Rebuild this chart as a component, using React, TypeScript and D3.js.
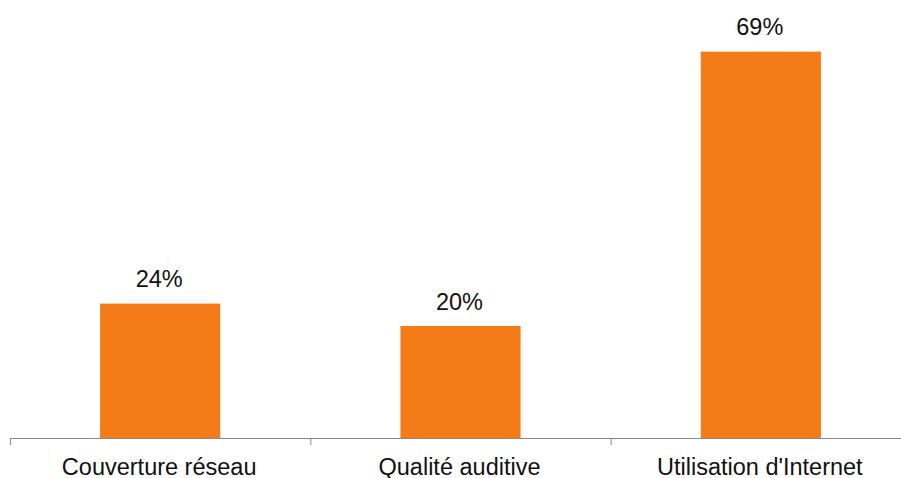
import React from "react";
import * as d3 from "d3";

const categories = ["Couverture réseau", "Qualité auditive", "Utilisation d'Internet"];
const values = [24, 20, 69];

const W = 901;
const H = 478;
const left = 10;
const right = 911;
const baseY = 438;
const topY = 51.6;

export default function App() {
  const x = d3.scaleBand<string>().domain(categories).range([left, right]).paddingInner(0.6).paddingOuter(0.3);
  const xb = d3.scaleBand<string>().domain(categories).range([left, right]);
  const y = d3.scaleLinear().domain([0, 69]).range([baseY, topY]);
  const ticks = [...categories.map((c) => xb(c) as number), right];
  return (
    <svg width={W} height={H} style={{ position: "absolute", left: 0, top: 0 }} fontFamily="'Liberation Sans', Arial, sans-serif">
      {categories.map((c, i) => (
        <g key={c}>
          <rect x={x(c)} y={y(values[i])} width={x.bandwidth()} height={baseY - y(values[i])} fill="#F47B17" />
          <text x={(x(c) as number) + x.bandwidth() / 2 - 1} y={y(values[i]) - 16.5} textAnchor="middle" fontSize={23.5} fill="#111">
            {values[i]}%
          </text>
          <text x={(xb(c) as number) + xb.bandwidth() / 2 - 1} y={474.5} textAnchor="middle" fontSize={23.5} fill="#111">
            {c}
          </text>
        </g>
      ))}
      <line x1={left} x2={right} y1={baseY + 0.5} y2={baseY + 0.5} stroke="#8a8a8a" strokeWidth={1} />
      {ticks.map((t, i) => (
        <line key={i} x1={t + 0.5} x2={t + 0.5} y1={baseY} y2={baseY + 7} stroke="#8a8a8a" strokeWidth={1} />
      ))}
    </svg>
  );
}
